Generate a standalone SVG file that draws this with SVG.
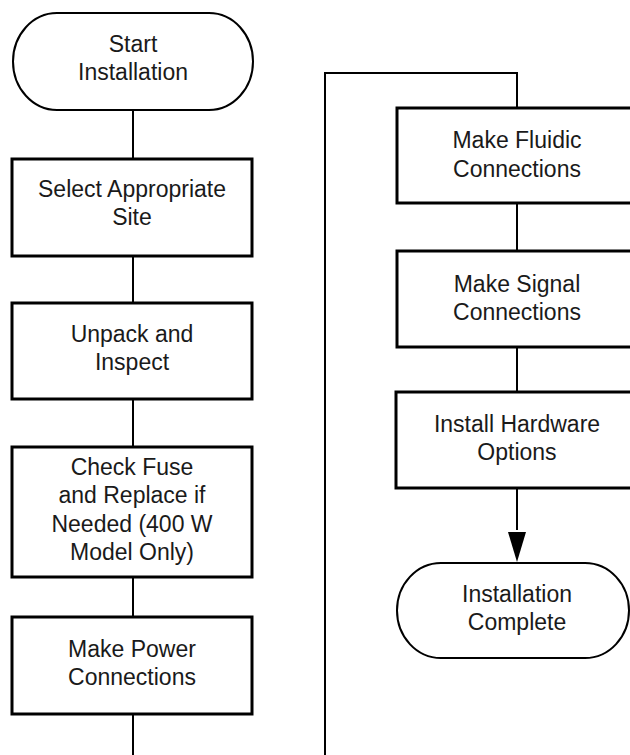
<svg xmlns="http://www.w3.org/2000/svg" width="630" height="755" viewBox="0 0 630 755">
<style>
.box{fill:#fff;stroke:#000;stroke-width:3}
.term{fill:#fff;stroke:#000;stroke-width:2}
.line{fill:none;stroke:#000;stroke-width:2}
text{font-family:"Liberation Sans",Arial,sans-serif;font-size:23px;fill:#1a1a1a;text-anchor:middle}
</style>
<defs>
<marker id="arrow" markerUnits="userSpaceOnUse" markerWidth="18" markerHeight="31" refX="17" refY="9" orient="auto" viewBox="0 0 18 31">
<path d="M0,0 L17,9 L0,18 Z" fill="#000"/>
</marker>
</defs>
<rect width="630" height="755" fill="#fff"/>
<g id="connectors">
<line class="line" x1="133" y1="110" x2="133" y2="159"/>
<line class="line" x1="133" y1="256" x2="133" y2="303"/>
<line class="line" x1="133" y1="399" x2="133" y2="447"/>
<line class="line" x1="133" y1="577" x2="133" y2="617"/>
<line class="line" x1="133" y1="714" x2="133" y2="755"/>
<polyline class="line" points="325,755 325,73 517,73 517,108"/>
<line class="line" x1="517" y1="203" x2="517" y2="251"/>
<line class="line" x1="517" y1="347" x2="517" y2="392"/>
<line class="line" x1="517" y1="488" x2="517" y2="530"/>
<path d="M508,532 L526,532 L517,562 Z" fill="#000"/>
</g>
<g id="start">
<rect class="term" x="13" y="13" width="240" height="97" rx="44" ry="48.5"/>
<text x="133" y="52">Start</text>
<text x="133" y="80">Installation</text>
</g>
<g id="select-site">
<rect class="box" x="12" y="159" width="240" height="97"/>
<text x="132" y="197">Select Appropriate</text>
<text x="132" y="225">Site</text>
</g>
<g id="unpack">
<rect class="box" x="12" y="303" width="240" height="96"/>
<text x="132" y="342">Unpack and</text>
<text x="132" y="370">Inspect</text>
</g>
<g id="check-fuse">
<rect class="box" x="12" y="447" width="240" height="130"/>
<text x="132" y="475">Check Fuse</text>
<text x="132" y="503">and Replace if</text>
<text x="132" y="532">Needed (400 W</text>
<text x="132" y="560">Model Only)</text>
</g>
<g id="power">
<rect class="box" x="12" y="617" width="240" height="97"/>
<text x="132" y="657">Make Power</text>
<text x="132" y="685">Connections</text>
</g>
<g id="fluidic">
<rect class="box" x="397" y="108" width="240" height="95"/>
<text x="517" y="148">Make Fluidic</text>
<text x="517" y="177">Connections</text>
</g>
<g id="signal">
<rect class="box" x="397" y="251" width="240" height="96"/>
<text x="517" y="292">Make Signal</text>
<text x="517" y="320">Connections</text>
</g>
<g id="hardware">
<rect class="box" x="396" y="392" width="240" height="96"/>
<text x="517" y="432">Install Hardware</text>
<text x="517" y="460">Options</text>
</g>
<g id="complete">
<rect class="term" x="397" y="563" width="232" height="95" rx="44" ry="47.5"/>
<text x="517" y="602">Installation</text>
<text x="517" y="630">Complete</text>
</g>
</svg>
